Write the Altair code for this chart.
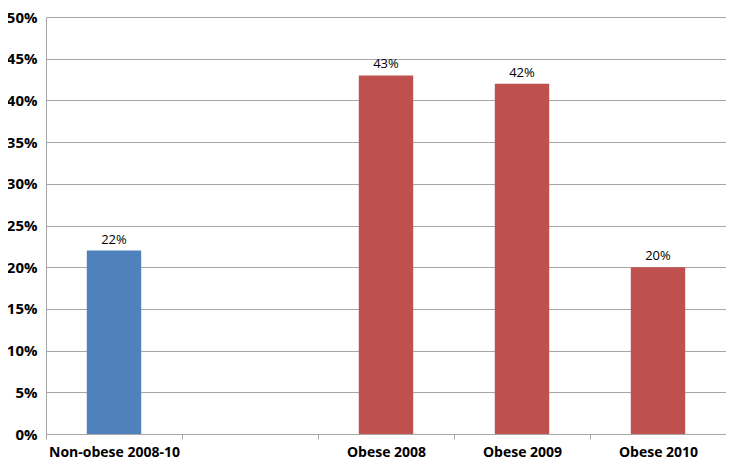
import altair as alt
import pandas as pd

categories = ["Non-obese  2008-10", " ", "Obese 2008", "Obese 2009", "Obese 2010"]
bar_categories = ["Non-obese  2008-10", "Obese 2008", "Obese 2009", "Obese 2010"]
values = [22, 43, 42, 20]
groups = ["non", "obese", "obese", "obese"]

df = pd.DataFrame({"cat": bar_categories, "val": values, "grp": groups})
df["lab"] = df["val"].astype(str) + "%"

x = alt.X("cat:N", sort=categories,
          scale=alt.Scale(domain=categories, paddingInner=0, paddingOuter=0),
          axis=alt.Axis(title=None, labelAngle=0, labelFont="Open Sans", labelFontWeight="bold",
                        labelFontSize=14, labelColor="black", labelPadding=6,
                        domainColor="#a6a6a6", tickColor="#a6a6a6", tickSize=5,
                        tickBand="extent", grid=False))
y = alt.Y("val:Q", scale=alt.Scale(domain=[0, 50]),
          axis=alt.Axis(title=None, values=list(range(0, 51, 5)), labelExpr="datum.value + '%'",
                        labelFont="Open Sans", labelFontWeight="bold", labelFontSize=15,
                        labelColor="black", labelPadding=9, ticks=False,
                        domainColor="#a6a6a6", gridColor="#a6a6a6", grid=True))

bars = alt.Chart(df).mark_bar(width=alt.RelativeBandSize(0.4)).encode(
    x=x, y=y,
    color=alt.Color("grp:N", scale=alt.Scale(domain=["non", "obese"], range=["#4F81BD", "#C0504D"]), legend=None),
)
text = alt.Chart(df).mark_text(baseline="bottom", dy=-4, font="Open Sans", fontSize=13, color="black").encode(
    x=alt.X("cat:N", sort=categories, scale=alt.Scale(domain=categories)), y="val:Q", text="lab:N")

chart = (bars + text).properties(
    width=680, height=417,
    autosize=alt.AutoSizeParams(type="none"),
    padding={"left": 38, "top": 9, "right": 0, "bottom": 29},
).configure_view(stroke=None)

chart.save("out.html", embed_options={"renderer": "svg", "actions": False})
